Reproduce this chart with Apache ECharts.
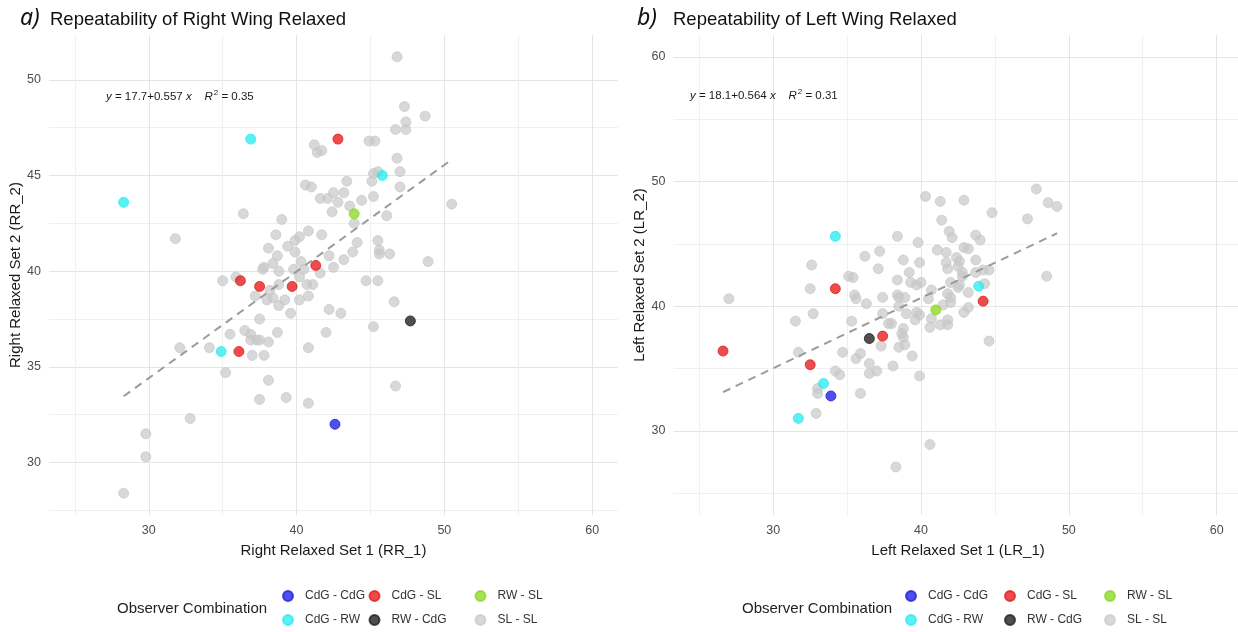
<!DOCTYPE html>
<html>
<head>
<meta charset="utf-8">
<script src="https://cdn.jsdelivr.net/npm/echarts@6/dist/echarts.min.js"></script>
<style>
  html, body { margin: 0; padding: 0; background: #ffffff; }
  #chart { width: 1238px; height: 632px; }
</style>
</head>
<body>
<div id="chart"></div>
<script>
// Observer combinations, in legend order (filled column by column)
const groups = ['CdG - CdG', 'CdG - RW', 'CdG - SL', 'RW - CdG', 'RW - SL', 'SL - SL'];

// ---- Panel a: right wing relaxed, set 1 (RR_1) vs set 2 (RR_2) ----
const rightCdGCdG = [[42.6, 32.0]];
const rightCdGRW = [[36.9, 46.9], [28.3, 43.6], [45.8, 45.0], [34.9, 35.8]];
const rightCdGSL = [[42.8, 46.9], [41.3, 40.3], [36.2, 39.5], [37.5, 39.2], [39.7, 39.2], [36.1, 35.8]];
const rightRWCdG = [[47.7, 37.4]];
const rightRWSL = [[43.9, 43.0]];
const rightSLSL = [
  [46.8, 51.2], [47.3, 48.6], [48.7, 48.1], [47.4, 47.8], [46.7, 47.4], [47.4, 47.4],
  [44.9, 46.8], [45.3, 46.8], [46.8, 45.9], [47.0, 45.2], [45.2, 45.1], [45.5, 45.2],
  [45.1, 44.7], [43.4, 44.7], [47.0, 44.4], [42.5, 44.1], [43.2, 44.1], [44.4, 43.7],
  [45.2, 43.9], [42.8, 43.6], [43.6, 43.4], [42.4, 43.1], [46.1, 42.9], [50.5, 43.5],
  [43.9, 42.5], [45.5, 41.6], [44.1, 41.5], [45.6, 41.1], [45.6, 40.9], [46.3, 40.9],
  [43.8, 41.0], [43.2, 40.6], [48.9, 40.5], [44.7, 39.5], [45.5, 39.5], [46.6, 38.4],
  [43.0, 37.8], [45.2, 37.1], [41.2, 46.6], [41.4, 46.2], [41.7, 46.3], [40.6, 44.5],
  [41.0, 44.4], [41.6, 43.8], [42.1, 43.8], [36.4, 43.0], [39.0, 42.7], [38.6, 41.9],
  [40.8, 42.1], [41.7, 41.9], [40.2, 41.8], [39.9, 41.6], [39.4, 41.3], [38.1, 41.2],
  [39.9, 41.0], [38.7, 40.8], [42.2, 40.8], [40.3, 40.5], [38.4, 40.4], [37.8, 40.2],
  [37.7, 40.1], [38.8, 40.0], [39.8, 40.1], [40.5, 40.1], [42.5, 40.2], [41.6, 39.9],
  [40.2, 39.7], [35.0, 39.5], [35.9, 39.7], [38.2, 39.0], [38.8, 39.3], [40.7, 39.3],
  [41.1, 39.3], [37.2, 38.7], [38.0, 38.5], [38.4, 38.6], [39.2, 38.5], [38.8, 38.2],
  [40.8, 38.7], [40.2, 38.5], [39.6, 37.8], [42.2, 38.0], [37.5, 37.5], [35.5, 36.7],
  [36.5, 36.9], [36.9, 36.7], [36.9, 36.4], [37.3, 36.4], [37.5, 36.4], [38.1, 36.3],
  [38.7, 36.8], [42.0, 36.8], [34.1, 36.0], [37.0, 35.6], [37.8, 35.6], [40.8, 36.0],
  [35.2, 34.7], [38.1, 34.3], [37.5, 33.3], [39.3, 33.4], [40.8, 33.1], [46.7, 34.0],
  [32.8, 32.3], [31.8, 41.7], [32.1, 36.0], [29.8, 31.5], [29.8, 30.3], [28.3, 28.4]
];
const rightFit = [17.7, 0.557, 0.35]; // intercept, slope, R squared

// ---- Panel b: left wing relaxed, set 1 (LR_1) vs set 2 (LR_2) ----
const leftCdGCdG = [[33.9, 32.8]];
const leftCdGRW = [[34.2, 45.6], [33.4, 33.8], [31.7, 31.0], [43.9, 41.6]];
const leftCdGSL = [[26.6, 36.4], [32.5, 35.3], [34.2, 41.4], [37.4, 37.6], [44.2, 40.4]];
const leftRWCdG = [[36.5, 37.4]];
const leftRWSL = [[41.0, 39.7]];
const leftSLSL = [
  [47.8, 49.4], [48.6, 48.3], [49.2, 48.0], [47.2, 47.0], [40.3, 48.8], [41.3, 48.4],
  [42.9, 48.5], [44.8, 47.5], [41.4, 46.9], [41.9, 46.0], [42.1, 45.5], [38.4, 45.6],
  [39.8, 45.1], [43.7, 45.7], [44.0, 45.3], [42.9, 44.7], [43.2, 44.6], [41.1, 44.5],
  [41.7, 44.3], [37.2, 44.4], [36.2, 44.0], [38.8, 43.7], [39.9, 43.5], [42.4, 43.9],
  [42.6, 43.6], [41.7, 43.5], [41.8, 43.0], [43.7, 43.7], [37.1, 43.0], [32.6, 43.3],
  [39.2, 42.7], [42.8, 42.7], [42.8, 42.4], [43.7, 42.7], [44.2, 42.9], [44.6, 42.9],
  [42.5, 43.2], [35.1, 42.4], [35.4, 42.3], [38.4, 42.1], [39.3, 41.9], [39.7, 41.7],
  [40.0, 41.9], [42.0, 41.9], [42.6, 41.7], [42.5, 41.5], [43.2, 41.1], [44.3, 41.8],
  [32.5, 41.4], [35.5, 40.9], [35.6, 40.6], [36.3, 40.2], [37.4, 40.7], [27.0, 40.6],
  [38.4, 40.9], [38.5, 40.7], [38.9, 40.7], [40.5, 40.6], [40.7, 41.3], [41.8, 41.0],
  [42.0, 40.7], [32.7, 39.4], [31.5, 38.8], [35.3, 38.8], [37.4, 39.4], [37.8, 38.6],
  [38.5, 40.0], [39.0, 39.4], [39.7, 39.5], [39.9, 39.3], [39.6, 38.9], [42.0, 40.3],
  [41.5, 40.1], [42.9, 39.5], [43.2, 39.9], [40.7, 39.0], [40.6, 38.3], [41.3, 38.5],
  [41.8, 38.5], [41.8, 38.9], [38.0, 38.6], [38.8, 38.2], [38.7, 37.8], [38.8, 37.5],
  [38.9, 36.9], [38.5, 36.7], [37.3, 36.8], [31.7, 36.3], [34.7, 36.3], [35.9, 36.2],
  [35.6, 35.8], [36.5, 35.4], [34.2, 34.8], [34.5, 34.5], [36.5, 34.6], [37.0, 34.8],
  [39.4, 36.0], [38.1, 35.2], [39.9, 34.4], [33.0, 33.4], [33.0, 33.0], [35.9, 33.0],
  [32.9, 31.4], [44.6, 37.2], [48.5, 42.4], [40.6, 28.9], [38.3, 27.1]
];
const leftFit = [18.1, 0.564, 0.31]; // intercept, slope, R squared

// ---- Axis ticks and grid lines ----
const axisLimits = [25, 60];                 // fixed limits (RR_1, LR_1, LR_2)
const xTickLabels = [30, 40, 50, 60];
const xGridValues = [25, 30, 35, 40, 45, 50, 55, 60];
const rrYTickLabels = [30, 35, 40, 45, 50];
const rrYGridValues = [27.5, 30, 32.5, 35, 37.5, 40, 42.5, 45, 47.5, 50];
const lrYTickLabels = [30, 40, 50, 60];
const lrYGridValues = [25, 30, 35, 40, 45, 50, 55, 60];

// ---- Styling ----
const FONT = '"Liberation Sans", Arial, sans-serif';
const groupColors = {
  'CdG - CdG': 'rgba(25, 25, 225, 0.76)',
  'CdG - RW': 'rgba(40, 235, 240, 0.76)',
  'CdG - SL': 'rgba(230, 25, 25, 0.78)',
  'RW - CdG': 'rgba(30, 30, 30, 0.78)',
  'RW - SL': 'rgba(135, 215, 30, 0.76)',
  'SL - SL': 'rgba(200, 200, 200, 0.7)'
};
const gridLineColors = ['#f0f0f0', '#e5e5e5']; // minor, major (alternating)

// 5% padding on each side of a range, as in the plotting defaults
function padRange(lo, hi) {
  const d = (hi - lo) * 0.05;
  return [lo - d, hi + d];
}

const panels = [
  {
    grid: { left: 49, top: 35, width: 569, height: 480 },
    xName: 'Right Relaxed Set 1 (RR_1)',
    yName: 'Right Relaxed Set 2 (RR_2)',
    sets: [rightCdGCdG, rightCdGRW, rightCdGSL, rightRWCdG, rightRWSL, rightSLSL],
    fit: rightFit,
    yFixed: null,
    yTicks: rrYTickLabels,
    yGrid: rrYGridValues
  },
  {
    grid: { left: 673.5, top: 35, width: 569, height: 480 },
    xName: 'Left Relaxed Set 1 (LR_1)',
    yName: 'Left Relaxed Set 2 (LR_2)',
    sets: [leftCdGCdG, leftCdGRW, leftCdGSL, leftRWCdG, leftRWSL, leftSLSL],
    fit: leftFit,
    yFixed: axisLimits,
    yTicks: lrYTickLabels,
    yGrid: lrYGridValues
  }
];

const grids = [], xAxes = [], yAxes = [], series = [];

panels.forEach((p, i) => {
  grids.push(Object.assign({ containLabel: false, outerBoundsMode: 'none' }, p.grid));

  const all = [].concat(...p.sets);
  const xs = all.map(d => d[0]);
  const ys = all.map(d => d[1]);
  const xr = padRange(axisLimits[0], axisLimits[1]);
  const yr = p.yFixed ? padRange(p.yFixed[0], p.yFixed[1])
                      : padRange(Math.min(...ys), Math.max(...ys));

  const common = {
    gridIndex: i,
    type: 'value',
    axisLine: { show: false },
    splitLine: { show: true, lineStyle: { color: gridLineColors, width: 1 } },
    minorSplitLine: { show: false },
    nameLocation: 'middle',
    nameTextStyle: { fontSize: 15, color: '#1a1a1a', fontFamily: FONT }
  };

  xAxes.push(Object.assign({}, common, {
    min: xr[0], max: xr[1],
    axisTick: { show: false, customValues: xGridValues },
    axisLabel: { customValues: xTickLabels, color: '#4d4d4d', fontSize: 12.5, margin: 9, fontFamily: FONT },
    name: p.xName,
    nameGap: 28
  }));

  yAxes.push(Object.assign({}, common, {
    min: yr[0], max: yr[1],
    axisTick: { show: false, customValues: p.yGrid },
    axisLabel: { customValues: p.yTicks, color: '#4d4d4d', fontSize: 12.5, margin: 8, fontFamily: FONT },
    name: p.yName,
    nameGap: 24
  }));

  // Gray SL - SL points underneath, coloured combinations on top
  const order = [5, 0, 1, 2, 3, 4];
  order.forEach(k => {
    const c = groupColors[groups[k]];
    series.push({
      type: 'scatter',
      name: groups[k],
      xAxisIndex: i,
      yAxisIndex: i,
      data: p.sets[k],
      symbol: 'circle',
      symbolSize: 10,
      itemStyle: { color: c, borderColor: c, borderWidth: 1, opacity: 1 },
      emphasis: { disabled: true },
      z: 2
    });
  });

  // Least-squares line drawn over the observed RR_1 / LR_1 range
  const [a, b] = p.fit;
  const x0 = Math.min(...xs), x1 = Math.max(...xs);
  series.push({
    type: 'line',
    name: 'fit',
    xAxisIndex: i,
    yAxisIndex: i,
    data: [[x0, a + b * x0], [x1, a + b * x1]],
    symbol: 'none',
    silent: true,
    lineStyle: { color: 'rgba(150,150,150,0.95)', width: 2, type: [8, 6] },
    z: 4
  });
});

function eqText(fit) {
  return '{i|y} = ' + fit[0].toFixed(1) + '+' + fit[1].toFixed(3) + ' {i|x}    {i|R}{sup|2} = ' + fit[2].toFixed(2);
}
const eqRich = {
  i: { fontStyle: 'italic', fontSize: 11.5, fontFamily: FONT, color: '#1a1a1a', lineHeight: 16 },
  sup: { fontSize: 8, fontFamily: FONT, color: '#1a1a1a', verticalAlign: 'top', lineHeight: 16, padding: [0, 0, 0, 1] }
};

const titleStyle = { fontSize: 18.5, fontWeight: 'normal', color: '#111', fontFamily: FONT };
const tagStyle = { fontSize: 23, fontWeight: 'normal', fontStyle: 'italic', color: '#111', fontFamily: '"Noto Sans", "Open Sans", sans-serif' };
const legendTitleStyle = { fontSize: 15, fontWeight: 'normal', color: '#222', fontFamily: FONT };
const eqStyle = { fontSize: 11.5, fontWeight: 'normal', color: '#1a1a1a', fontFamily: FONT, lineHeight: 16, rich: eqRich };

const titles = [
  { text: 'a)', left: 20, top: 7, padding: 0, textStyle: tagStyle },
  { text: 'Repeatability of Right Wing Relaxed', left: 50, top: 10, padding: 0, textStyle: titleStyle },
  { text: 'b)', left: 637, top: 7, padding: 0, textStyle: tagStyle },
  { text: 'Repeatability of Left Wing Relaxed', left: 673, top: 10, padding: 0, textStyle: titleStyle },
  { text: eqText(rightFit), left: 106, top: 89, padding: 0, textStyle: eqStyle },
  { text: eqText(leftFit), left: 690, top: 88, padding: 0, textStyle: eqStyle },
  { text: 'Observer Combination', left: 117, top: 601, padding: 0, textStyle: legendTitleStyle },
  { text: 'Observer Combination', left: 742, top: 601, padding: 0, textStyle: legendTitleStyle }
];

// Legend: three columns of two entries per panel
const legendColumns = [[groups[0], groups[1]], [groups[2], groups[3]], [groups[4], groups[5]]];
const legendLefts = [[282, 368.5, 474.5], [905, 1004, 1104]];
const legends = [];
legendLefts.forEach(lefts => {
  lefts.forEach((lx, c) => {
    legends.push({
      orient: 'vertical',
      left: lx,
      top: 589,
      padding: 0,
      itemWidth: 24,
      itemHeight: 10,
      itemGap: 10,
      icon: 'circle',
      selectedMode: false,
      data: legendColumns[c],
      textStyle: { fontSize: 12, color: '#333', fontFamily: FONT, lineHeight: 14 }
    });
  });
});

const chart = echarts.init(document.getElementById('chart'), null, { renderer: 'canvas' });
chart.setOption({
  animation: false,
  backgroundColor: '#ffffff',
  title: titles,
  legend: legends,
  grid: grids,
  xAxis: xAxes,
  yAxis: yAxes,
  series: series
});
</script>
</body>
</html>
